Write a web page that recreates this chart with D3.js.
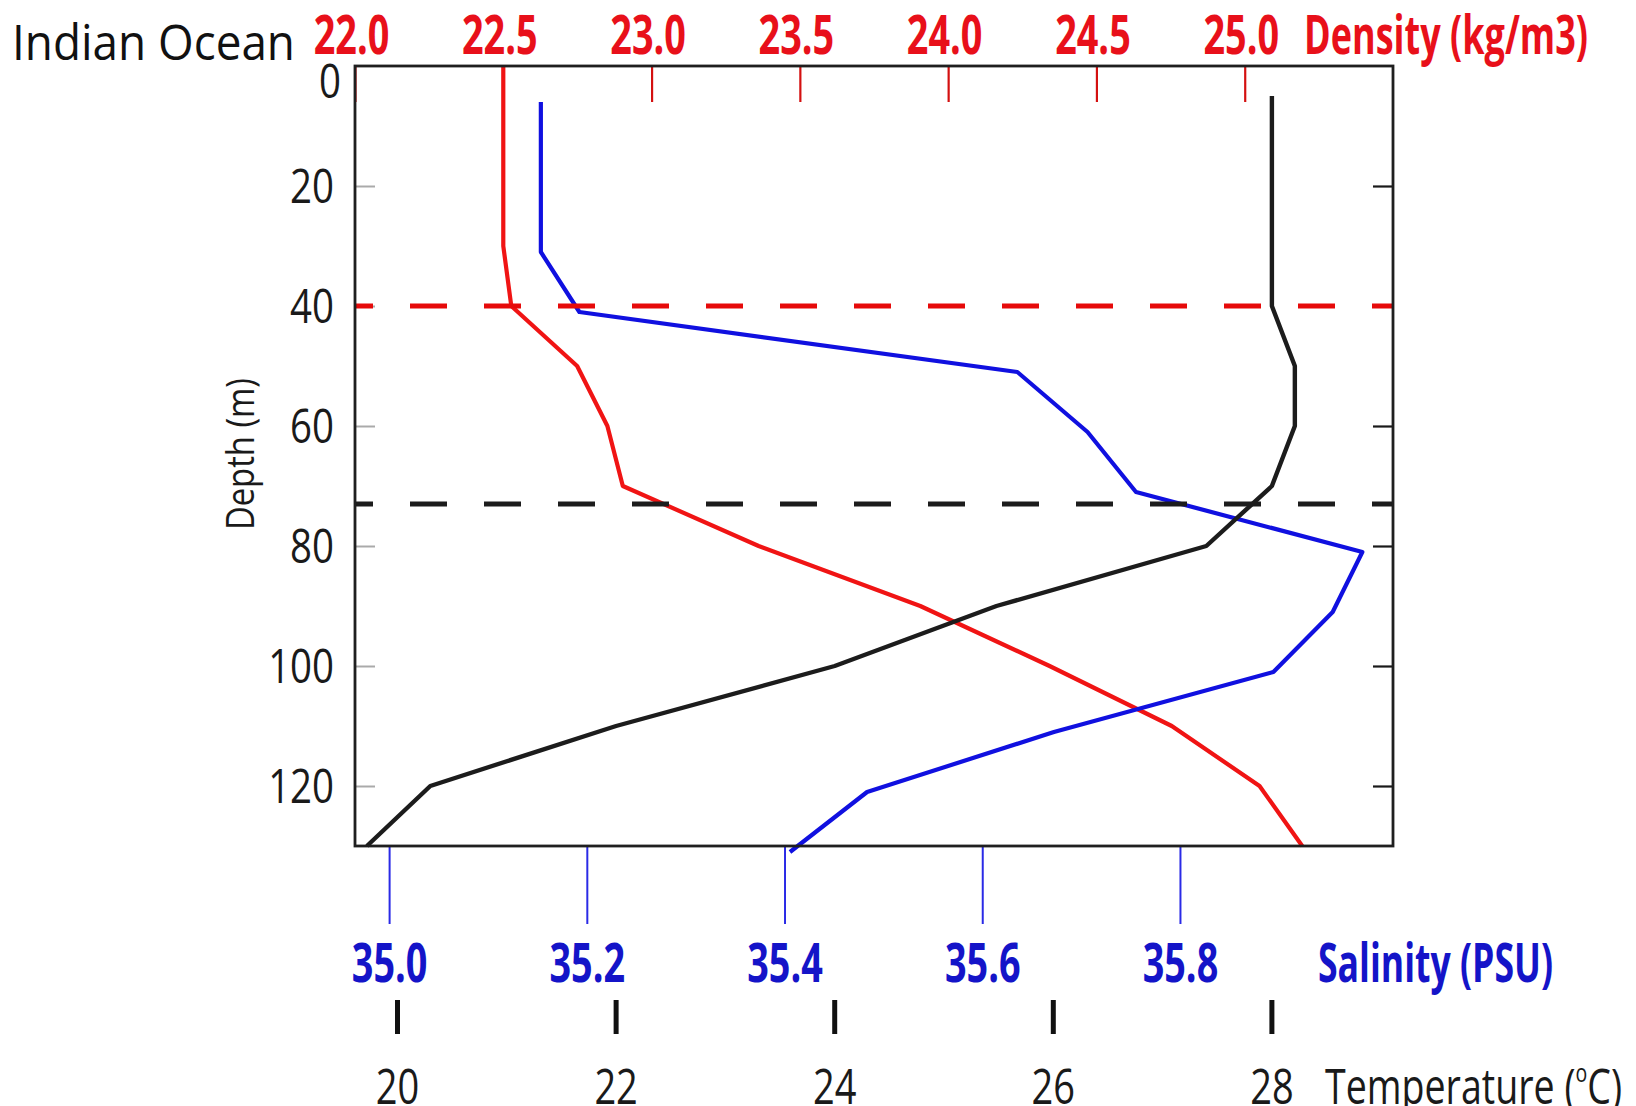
<!DOCTYPE html>
<html>
<head>
<meta charset="utf-8">
<script src="https://cdn.jsdelivr.net/npm/d3@7"></script>
<style>
  body { margin: 0; background: #fff; }
  text { font-family: "Open Sans", "Noto Sans", sans-serif; }
</style>
</head>
<body>
<svg id="chart" width="1636" height="1106"></svg>
<script>
// Temperature profile (°C) against depth (m)
const tempDepth = [5, 40, 50, 60, 70, 80, 90, 100, 110, 120, 130];
const tempValue = [28.0, 28.0, 28.21, 28.21, 28.0, 27.40, 25.48, 24.0, 22.0, 20.30, 19.72];

// Salinity profile (PSU) against depth (m)
const salDepth = [6, 31, 41, 51, 61, 71, 81, 91, 101, 111, 121, 131];
const salValue = [35.153, 35.153, 35.192, 35.635, 35.706, 35.755, 35.984, 35.954, 35.894, 35.672, 35.483, 35.405];

// Density profile (kg/m3, sigma) against depth (m)
const denDepth = [0, 30, 40, 50, 60, 70, 80, 90, 100, 110, 120, 130];
const denValue = [22.5, 22.5, 22.527, 22.749, 22.851, 22.903, 23.361, 23.906, 24.342, 24.754, 25.05, 25.194];

// Layer depths marked with dashed lines (m)
const isoLayerDepth = 40;
const mixedLayerDepth = 73;

// Axis extents and tick values
const depthExtent = [0, 130];
const densityExtent = [22.0, 25.5];
const salinityExtent = [34.965, 36.015];
const tempExtent = [19.611, 29.108];
const depthTicks = [0, 20, 40, 60, 80, 100, 120];
const densityTicks = [22.0, 22.5, 23.0, 23.5, 24.0, 24.5, 25.0];
const salinityTicks = [35.0, 35.2, 35.4, 35.6, 35.8];
const tempTicks = [20, 22, 24, 26, 28];

const RED = "#e8101a", BLUE = "#1414c8";

const svg = d3.select("#chart");
const box = { left: 355, right: 1393, top: 66, bottom: 846 };

const y = d3.scaleLinear().domain(depthExtent).range([box.top, box.bottom]);
const xDen = d3.scaleLinear().domain(densityExtent).range([box.left, box.right]);
const xSal = d3.scaleLinear().domain(salinityExtent).range([box.left, box.right]);
const xTemp = d3.scaleLinear().domain(tempExtent).range([box.left, box.right]);

const fmt1 = d3.format(".1f");

// Horizontally condense text by a factor, keeping its height
function squeeze(sel, k) {
  sel.each(function () {
    const w = this.getComputedTextLength();
    d3.select(this).attr("textLength", w * k).attr("lengthAdjust", "spacingAndGlyphs");
  });
}

// ---- depth axis (left, inward ticks) ----
const depthAxisG = svg.append("g").attr("transform", `translate(${box.left},0)`)
  .call(d3.axisLeft(y).tickValues(depthTicks).tickSize(-20).tickPadding(21));
depthAxisG.select(".domain").remove();
depthAxisG.selectAll(".tick line").attr("stroke", "#aaa").attr("stroke-width", 2)
  .filter(d => d === 0).remove();
depthAxisG.selectAll(".tick text")
  .attr("font-size", 48).attr("fill", "#1a1a1a")
  .attr("font-family", '"Open Sans", sans-serif')
  .attr("dx", d => d === 0 ? 7 : 0)
  .attr("dy", d => d === 0 ? "0.65em" : "0.34em")
  .call(squeeze, 0.8);

// ---- right axis (ticks only) ----
const rightAxisG = svg.append("g").attr("transform", `translate(${box.right},0)`)
  .call(d3.axisRight(y).tickValues(depthTicks.filter(d => d > 0)).tickSize(-20).tickFormat(""));
rightAxisG.select(".domain").remove();
rightAxisG.selectAll(".tick line").attr("stroke", "#1a1a1a").attr("stroke-width", 2.2);

// ---- density axis (top, red) ----
const densityAxisG = svg.append("g").attr("transform", `translate(0,${box.top})`)
  .call(d3.axisTop(xDen).tickValues(densityTicks).tickSize(-36).tickPadding(12).tickFormat(fmt1));
densityAxisG.select(".domain").remove();
densityAxisG.selectAll(".tick line").attr("stroke", "#d41010").attr("stroke-width", 2.2);
densityAxisG.selectAll(".tick text")
  .attr("font-size", 54).attr("font-weight", 700).attr("fill", RED)
  .attr("font-family", '"Open Sans", sans-serif')
  .attr("dx", -4)
  .call(squeeze, 0.7);

// ---- salinity axis (below the box, blue) ----
const salAxisG = svg.append("g");
salAxisG.selectAll("line").data(salinityTicks).join("line")
  .attr("x1", d => xSal(d)).attr("x2", d => xSal(d))
  .attr("y1", box.bottom).attr("y2", 924)
  .attr("stroke", "#2a2ae6").attr("stroke-width", 2);
salAxisG.selectAll("text").data(salinityTicks).join("text")
  .attr("x", d => xSal(d)).attr("y", 982)
  .attr("text-anchor", "middle")
  .attr("font-size", 54).attr("font-weight", 700).attr("fill", BLUE)
  .text(fmt1)
  .call(squeeze, 0.7);

// ---- temperature axis (bottom, black) ----
const tempAxisG = svg.append("g");
tempAxisG.selectAll("line").data(tempTicks).join("line")
  .attr("x1", d => xTemp(d)).attr("x2", d => xTemp(d))
  .attr("y1", 1000).attr("y2", 1034)
  .attr("stroke", "#111").attr("stroke-width", 5);
tempAxisG.selectAll("text").data(tempTicks).join("text")
  .attr("x", d => xTemp(d)).attr("y", 1104)
  .attr("text-anchor", "middle")
  .attr("font-size", 50).attr("fill", "#1a1a1a")
  .text(d => d)
  .call(squeeze, 0.76);

// ---- profiles ----
const curves = svg.append("g").attr("fill", "none").attr("stroke-linejoin", "round");

curves.append("path")
  .datum(d3.zip(denDepth, denValue))
  .attr("d", d3.line().x(d => xDen(d[1])).y(d => y(d[0])))
  .attr("stroke", "#f01414").attr("stroke-width", 4.2);

curves.append("path")
  .datum(d3.zip(salDepth, salValue))
  .attr("d", d3.line().x(d => xSal(d[1])).y(d => y(d[0])))
  .attr("stroke", "#1010e0").attr("stroke-width", 4.2);

curves.append("path")
  .datum(d3.zip(tempDepth, tempValue))
  .attr("d", d3.line().x(d => xTemp(d[1])).y(d => y(d[0])))
  .attr("stroke", "#1c1c1c").attr("stroke-width", 4.4);

// ---- layer depth markers ----
svg.append("line")
  .attr("x1", box.left).attr("x2", box.right)
  .attr("y1", y(isoLayerDepth)).attr("y2", y(isoLayerDepth))
  .attr("stroke", "#e60a0a").attr("stroke-width", 5)
  .attr("stroke-dasharray", "37,37").attr("stroke-dashoffset", 19);
svg.append("line")
  .attr("x1", box.left).attr("x2", box.right)
  .attr("y1", y(mixedLayerDepth)).attr("y2", y(mixedLayerDepth))
  .attr("stroke", "#1c1c1c").attr("stroke-width", 5)
  .attr("stroke-dasharray", "37,37").attr("stroke-dashoffset", 19);

// ---- frame ----
svg.append("rect")
  .attr("x", box.left).attr("y", box.top)
  .attr("width", box.right - box.left).attr("height", box.bottom - box.top)
  .attr("fill", "none").attr("stroke", "#1f1f1f").attr("stroke-width", 2.8);

// ---- titles ----
svg.append("text").attr("x", 12).attr("y", 60)
  .attr("font-size", 50).attr("fill", "#111")
  .attr("textLength", 283).attr("lengthAdjust", "spacingAndGlyphs")
  .text("Indian Ocean");

svg.append("text").attr("x", 1304).attr("y", 54)
  .attr("font-size", 54).attr("font-weight", 700).attr("fill", RED)
  .attr("textLength", 284).attr("lengthAdjust", "spacingAndGlyphs")
  .text("Density (kg/m3)");

svg.append("text").attr("x", 1318).attr("y", 982)
  .attr("font-size", 54).attr("font-weight", 700).attr("fill", BLUE)
  .attr("textLength", 235).attr("lengthAdjust", "spacingAndGlyphs")
  .text("Salinity (PSU)");

const tempTitle = svg.append("text").attr("x", 1325).attr("y", 1104)
  .attr("font-size", 50).attr("fill", "#1a1a1a")
  .attr("textLength", 297).attr("lengthAdjust", "spacingAndGlyphs");
tempTitle.append("tspan").text("Temperature (");
tempTitle.append("tspan").attr("font-size", 26).attr("dy", -22).text("o");
tempTitle.append("tspan").attr("dy", 22).text("C)");

svg.append("text")
  .attr("transform", "translate(254,454) rotate(-90)")
  .attr("text-anchor", "middle")
  .attr("font-size", 38).attr("fill", "#1a1a1a")
  .attr("textLength", 152).attr("lengthAdjust", "spacingAndGlyphs")
  .text("Depth (m)");
</script>
</body>
</html>
